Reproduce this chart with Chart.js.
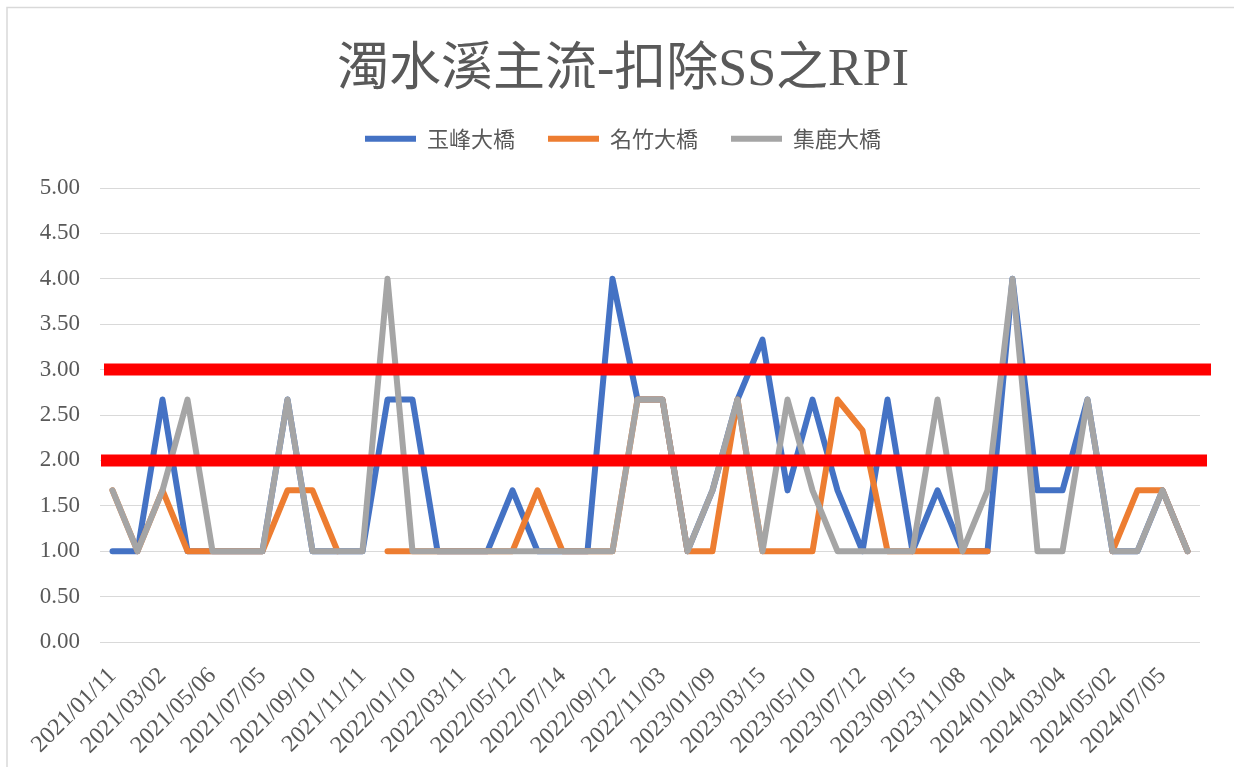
<!DOCTYPE html>
<html>
<head>
<meta charset="utf-8">
<script src="https://cdn.jsdelivr.net/npm/chart.js@4"></script>
<style>
  html, body { margin: 0; padding: 0; background: #ffffff; }
  #wrap { width: 1234px; height: 767px; position: relative; }
</style>
</head>
<body>
<div id="wrap"><canvas id="c" width="1234" height="767"></canvas></div>
<script>
// ---- data ----
const categories = [
  '2021/01/11','2021/02/03','2021/03/02','2021/04/07','2021/05/06','2021/06/02',
  '2021/07/05','2021/08/04','2021/09/10','2021/10/06','2021/11/11','2021/12/08',
  '2022/01/10','2022/02/14','2022/03/11','2022/04/13','2022/05/12','2022/06/09',
  '2022/07/14','2022/08/10','2022/09/12','2022/10/05','2022/11/03','2022/12/07',
  '2023/01/09','2023/02/08','2023/03/15','2023/04/12','2023/05/10','2023/06/07',
  '2023/07/12','2023/08/09','2023/09/15','2023/10/11','2023/11/08','2023/12/06',
  '2024/01/04','2024/02/02','2024/03/04','2024/04/10','2024/05/02','2024/06/05',
  '2024/07/05','2024/08/07'
];
const yuFengBridge = [
  1, 1, 2.67, 1, 1, 1, 1, 2.67, 1, 1,
  1, 2.67, 2.67, 1, 1, 1, 1.67, 1, 1, 1,
  4, 2.67, 2.67, 1, 1.67, 2.67, 3.33, 1.67, 2.67, 1.67,
  1, 2.67, 1, 1.67, 1, 1, 4, 1.67, 1.67, 2.67,
  1, 1, 1.67, 1
];
const mingZhuBridge = [
  1.67, 1, 1.67, 1, 1, 1, 1, 1.67, 1.67, 1,
  null, 1, 1, 1, 1, 1, 1, 1.67, 1, 1,
  1, 2.67, 2.67, 1, 1, 2.67, 1, 1, 1, 2.67,
  2.33, 1, 1, 1, 1, 1, null, null, null, null,
  1, 1.67, 1.67, 1
];
const jiLuBridge = [
  1.67, 1, 1.67, 2.67, 1, 1, 1, 2.67, 1, 1,
  1, 4, 1, 1, 1, 1, 1, 1, 1, 1,
  1, 2.67, 2.67, 1, 1.67, 2.67, 1, 2.67, 1.67, 1,
  1, 1, 1, 2.67, 1, 1.67, 4, 1, 1, 2.67,
  1, 1, 1.67, 1
];
const seriesNames = ['玉峰大橋', '名竹大橋', '集鹿大橋'];
const thresholdValues = [3, 2];
const yMin = 0, yMax = 5, yStep = 0.5;
const chartTitle = '濁水溪主流-扣除SS之RPI';

// ---- styles ----
const colors = ['#4472C4', '#ED7D31', '#A5A5A5'];
const textColor = '#595959';
const serif = "'Liberation Serif', 'Noto Sans CJK TC', serif";

const frame = {
  id: 'frame',
  beforeDraw(chart) {
    const ctx = chart.ctx;
    ctx.save();
    ctx.fillStyle = '#ffffff';
    ctx.fillRect(0, 0, chart.width, chart.height);
    ctx.strokeStyle = '#d9d9d9';
    ctx.lineWidth = 1.5;
    ctx.beginPath();
    ctx.moveTo(7, chart.height + 2);
    ctx.lineTo(7, 7.5);
    ctx.lineTo(chart.width + 2, 7.5);
    ctx.stroke();
    ctx.restore();
  }
};

// centre title and legend over the whole (uncropped) chart frame
const headerShift = {
  id: 'headerShift',
  afterLayout(chart) {
    const dx = 18;
    [chart.titleBlock, chart.legend].forEach((b) => {
      if (b) { b.left += dx; b.right += dx; }
    });
  }
};

const thresholdLines = {
  id: 'thresholdLines',
  afterDatasetsDraw(chart) {
    const ctx = chart.ctx, area = chart.chartArea, y = chart.scales.y;
    const ext = [{s: 4, e: 11}, {s: 1, e: 7}];
    ctx.save();
    ctx.strokeStyle = '#FF0000';
    ctx.lineWidth = 12;
    ctx.lineCap = 'butt';
    thresholdValues.forEach((v, i) => {
      const py = y.getPixelForValue(v);
      ctx.beginPath();
      ctx.moveTo(area.left + ext[i].s, py);
      ctx.lineTo(area.right + ext[i].e, py);
      ctx.stroke();
    });
    ctx.restore();
  }
};

const mk = (label, data, i, order) => ({
  label, data,
  borderColor: colors[i], backgroundColor: colors[i],
  borderWidth: 6, borderCapStyle: 'round', borderJoinStyle: 'round',
  pointRadius: 0, pointHoverRadius: 0, tension: 0, spanGaps: false,
  order
});

new Chart(document.getElementById('c'), {
  type: 'line',
  data: {
    labels: categories,
    datasets: [
      mk(seriesNames[0], yuFengBridge, 0, 3),
      mk(seriesNames[1], mingZhuBridge, 1, 2),
      mk(seriesNames[2], jiLuBridge, 2, 1)
    ]
  },
  options: {
    responsive: false,
    devicePixelRatio: 1,
    animation: false,
    layout: { padding: { left: 10, right: 34, top: 0, bottom: 0 } },
    plugins: {
      title: {
        display: true, text: chartTitle, color: textColor,
        font: { family: serif, size: 52, weight: 'normal', lineHeight: 0.9 },
        padding: { top: 47.9, bottom: 0 }
      },
      subtitle: {
        display: true, text: '', weight: 500, position: 'top',
        font: { size: 1, lineHeight: 1 },
        padding: { top: 27.3, bottom: 0 }
      },
      legend: {
        display: true, position: 'top',
        labels: {
          usePointStyle: true, pointStyle: 'line', pointStyleWidth: 51,
          padding: 33, color: textColor,
          font: { family: "'Noto Sans CJK TC', sans-serif", size: 22 },
          sort: (a, b) => a.datasetIndex - b.datasetIndex
        }
      },
      tooltip: { enabled: false }
    },
    scales: {
      x: {
        type: 'category',
        offset: true,
        grid: { display: false, drawTicks: false },
        border: { display: false },
        ticks: {
          autoSkip: false, minRotation: 45, maxRotation: 45, padding: 20,
          color: textColor, font: { family: serif, size: 24 },
          callback: (v, idx) => idx % 2 === 0 ? categories[idx] : ''
        },
        afterFit: (s) => { s.height = 125; }
      },
      y: {
        min: yMin, max: yMax,
        grid: { color: '#d9d9d9', lineWidth: 1, drawTicks: false },
        border: { display: false },
        ticks: {
          stepSize: yStep, padding: 20, color: textColor,
          font: { family: serif, size: 23 },
          callback: (v) => Number(v).toFixed(2)
        },
        afterFit: (s) => { s.width = 90; }
      }
    }
  },
  plugins: [frame, headerShift, thresholdLines]
});
</script>
</body>
</html>
